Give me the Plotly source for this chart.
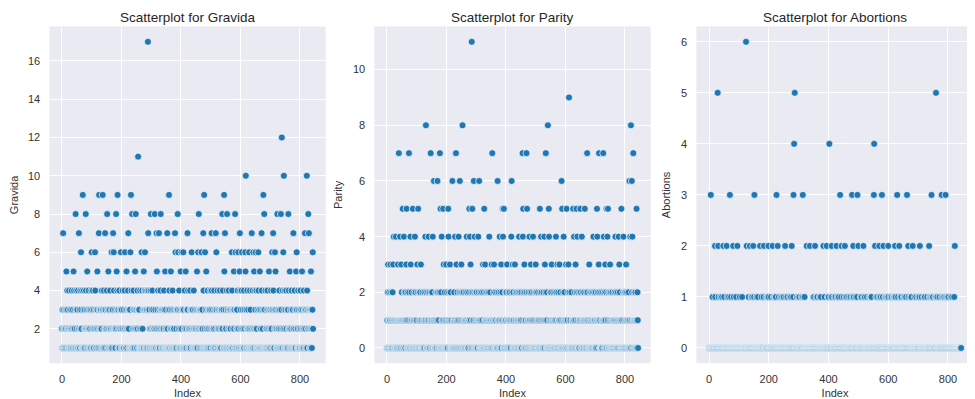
import plotly.graph_objects as go

# ---------------- data ----------------
# dense-row values for each record index, 50 per line
gravida_base = """
2131421312 1231253142 3121421312 1324121315 2412312143
2131412321 3142132141 2131412312 1423152132 4123121314
1231421312 2143121325 3121413213 2312413213 1421312312
2413125312 1342121331 2312141232 1213524131 3214123213
1321421131 2412131523 1241321313 2131412121 3412315213
2131421331 3124112131 4213151341 3141313413 1341312143
2131421312 1241312135 2314123131 2413213312 1324131521
3121412131 2413125213 1241312213 2141321331 3212413125
1342131321 3124125131 2313412212 1431231321 3124121312
2131521312 1321331231 2132124131 2413152131 4213123314
1231421132 2141321531 3124123213 1421313231 2413125142
3121421331 2413123213 1241321352 3121413213 2413121534
1321412131 2141321531 3124123213 1241312131 2413125214
3121421131 2413152132 1241321313 2131412121 3412315213
1324123131 2413121352 3121413213 2413125131 1241321314
2131421131 3124125213 1241313231 2141321531 3212413112
1342131521 3124123131 2313413212 1331231523 12312
"""
gravida_hi_index = [289, 739, 256, 618, 746, 823,
                    70, 125, 137, 187, 232, 360, 478, 545, 677,
                    46, 80, 152, 182, 236, 248, 299, 312, 332, 389, 460, 539, 555, 582, 680, 724, 736, 761, 828,
                    4, 57, 124, 145, 172, 223, 290, 318, 326, 354, 380, 422, 475, 503, 517, 548, 598, 638, 671, 710, 778, 817, 830,
                    64, 100, 111, 167, 174, 198, 212, 230, 268, 279, 382, 391, 402, 408, 436, 458, 469, 481, 519, 571, 584, 593,
                    605, 616, 629, 643, 651, 660, 707, 716, 744, 789, 843]
gravida_hi_value = [17, 12, 11, 10, 10, 10,
                    9, 9, 9, 9, 9, 9, 9, 9, 9,
                    8, 8, 8, 8, 8, 8, 8, 8, 8, 8, 8, 8, 8, 8, 8, 8, 8, 8, 8,
                    7, 7, 7, 7, 7, 7, 7, 7, 7, 7, 7, 7, 7, 7, 7, 7, 7, 7, 7, 7, 7, 7, 7,
                    6, 6, 6, 6, 6, 6, 6, 6, 6, 6, 6, 6, 6, 6, 6, 6, 6, 6, 6, 6, 6, 6,
                    6, 6, 6, 6, 6, 6, 6, 6, 6, 6, 6]

parity_base = """
0102301021 0130201012 0314010010 4100101310 0101401031
2012010412 0102130100 2100120104 3012010201 0120410210
0130210012 0120310100 2010012104 1020010120 4102001012
0120410120 1000120102 0120010210 1020410012 0310200103
1020010412 0130210100 2001012014 0120310210 0410200102
3012001021 0010120140 2100012014 0312010021 0100240102
0120010412 0100120100 2013002101 3012010201 0120410210
0130210012 3010210100 2001012104 1020310120 4102001012
0120301012 0102100140 2103120100 3012010201 0120410210
1020010412 0130210100 2001012014 0120310210 0410200102
3012001021 0010120140 2100012014 0312010021 0100240102
0120310012 0100120140 2013002101 3012010201 0120410210
0130210012 3010210100 2001012104 1020310120 4102001012
0120041012 0102100100 2103120100 3012010201 0120410210
1020010412 0130210100 2001012014 0120310210 0410200102
3012001021 0010120140 2100012014 0312010021 0100240102
0120310210 1020120140 2010240101 0210120102 10210
"""
parity_hi_index = [285, 612, 131, 254, 541, 820,
                   40, 74, 147, 178, 232, 354, 456, 469, 534, 673, 713, 727, 828,
                   158, 170, 220, 245, 292, 310, 372, 419, 587, 815, 823,
                   53, 66, 87, 105, 180, 189, 206, 277, 287, 327, 389, 393, 458, 471, 514, 544, 589,
                   604, 626, 637, 650, 665, 706, 738, 743, 788, 839]
parity_hi_value = [11, 9, 8, 8, 8, 8,
                   7, 7, 7, 7, 7, 7, 7, 7, 7, 7, 7, 7, 7,
                   6, 6, 6, 6, 6, 6, 6, 6, 6, 6, 6,
                   5, 5, 5, 5, 5, 5, 5, 5, 5, 5, 5, 5, 5, 5, 5, 5, 5,
                   5, 5, 5, 5, 5, 5, 5, 5, 5, 5]

abortions_base = """
0000000000 0010000000 0100000000 0010000001 0000100000
0100000000 0010000100 0000100000 0001000000 0100010000
0001000000 0100000000 0000000000 0001000000 0010010000
0100000001 0000100000 0100001000 0001000000 0010001000
1000000010 0000000100 0100100000 0000100000 0100010000
1000000010 0001000000 0100010000 0010000100 0000100001
0001000000 0100010000 1000000000 0000000000 0000000001
0010000000 1001000000 0100010000 0001000100 0000100010
0100000001 0010000000 1000100000 0100010000 0001000000
0100000010 0010000001 0000100000 0100010000 0010001000
1000000010 0100000001 0010000001 0000000100 0100100000
0010000000 1000100000 0100010000 0010000000 1001000100
0100000010 0010000010 0100010000 0001000000 0100100000
0010001000 1000000010 0000100010 0010000001 0000100000
0100010000 0010000000 1001000000 0100000001 0001000100
1000000010 0100010000 0010000000 1000100010 0000100010
0010000000 1000100000 0100000000 0000000000 00000
"""
abortions_hi_index = [124, 29, 287, 760, 285, 403, 553,
                      6, 70, 152, 226, 283, 314, 439, 479, 497, 552, 579, 630, 663, 745, 779, 792,
                      20, 31, 48, 59, 81, 95, 126, 137, 148, 171, 184, 199, 213, 230, 255, 277, 327, 338, 355,
                      383, 394, 411, 427, 444, 455, 483, 500, 517, 556, 570, 584, 600, 623, 637, 667, 682,
                      706, 737, 823]
abortions_hi_value = [6, 5, 5, 5, 4, 4, 4,
                      3, 3, 3, 3, 3, 3, 3, 3, 3, 3, 3, 3, 3, 3, 3, 3,
                      2, 2, 2, 2, 2, 2, 2, 2, 2, 2, 2, 2, 2, 2, 2, 2, 2, 2, 2,
                      2, 2, 2, 2, 2, 2, 2, 2, 2, 2, 2, 2, 2, 2, 2, 2, 2,
                      2, 2, 2]

panel_names = ["Gravida", "Parity", "Abortions"]
panel_titles = ["Scatterplot for Gravida", "Scatterplot for Parity", "Scatterplot for Abortions"]
x_ticks = [0, 200, 400, 600, 800]
y_ticks = [[2, 4, 6, 8, 10, 12, 14, 16], [0, 2, 4, 6, 8, 10], [0, 1, 2, 3, 4, 5, 6]]


def build(base, hi_idx, hi_val):
    vals = [int(c) for c in base if c.isdigit()]
    for i, v in zip(hi_idx, hi_val):
        if 0 <= i < len(vals):
            vals[i] = v
    return vals


series = [build(gravida_base, gravida_hi_index, gravida_hi_value),
          build(parity_base, parity_hi_index, parity_hi_value),
          build(abortions_base, abortions_hi_index, abortions_hi_value)]

# ---------------- figure ----------------
W, H = 975, 399
OFF = 8  # the page body adds an 8px margin; compensate so screen positions match
BLUE = "#1f77b4"
TXT = "#333333"
FONT = "Liberation Sans, Arial, sans-serif"

# screen-pixel positions of plot areas in the reference
x_px = [(49.4, 325.6), (374.4, 650.6), (696.4, 973.7)]
y_top, y_bot = 26.5, 363.3

fig = go.Figure()
layout = dict(
    width=W, height=H,
    margin=dict(l=0, r=0, t=0, b=0),
    paper_bgcolor="white",
    plot_bgcolor="#EAEAF2",
    showlegend=False,
    font=dict(family=FONT, color=TXT, size=11),
    annotations=[],
)


def fx(px):
    return (px - OFF) / W


def fy(py):
    return (H - (py - OFF)) / H


for k, vals in enumerate(series):
    n = len(vals)
    idx = list(range(n))
    xa = "x" if k == 0 else f"x{k+1}"
    ya = "y" if k == 0 else f"y{k+1}"
    fig.add_trace(go.Scatter(
        x=idx, y=vals, mode="markers", xaxis=xa, yaxis=ya,
        marker=dict(size=7.0, color=BLUE, line=dict(color="white", width=0.7)),
        hoverinfo="x+y",
    ))
    vmin, vmax = min(vals), max(vals)
    ypad = (vmax - vmin) * 0.05
    xpad = (n - 1) * 0.05
    d0 = fx(x_px[k][0])
    d1 = fx(x_px[k][1])
    xkey = "xaxis" if k == 0 else f"xaxis{k+1}"
    ykey = "yaxis" if k == 0 else f"yaxis{k+1}"
    layout[xkey] = dict(
        domain=[d0, min(d1, 1.0)], anchor=ya, range=[-xpad, n - 1 + xpad],
        tickvals=x_ticks, ticks="outside", ticklen=5, tickcolor="rgba(0,0,0,0)",
        showline=False, zeroline=False,
        gridcolor="white", gridwidth=1,
        tickfont=dict(size=11, color=TXT, family=FONT),
        title=dict(text="Index", font=dict(size=11, color=TXT, family=FONT), standoff=5),
    )
    layout[ykey] = dict(
        domain=[fy(y_bot), fy(y_top)], anchor=xa,
        range=[vmin - ypad, vmax + ypad],
        tickvals=y_ticks[k], ticks="outside", ticklen=6, tickcolor="rgba(0,0,0,0)",
        showline=False, zeroline=False,
        gridcolor="white", gridwidth=1,
        tickfont=dict(size=11, color=TXT, family=FONT),
        title=dict(text=panel_names[k], font=dict(size=11, color=TXT, family=FONT), standoff=8),
    )
    layout["annotations"].append(dict(
        text=panel_titles[k], xref="paper", yref="paper",
        x=(d0 + d1) / 2, y=fy(17), xanchor="center", yanchor="middle",
        showarrow=False, font=dict(size=13.5, color="#262626", family=FONT),
    ))

fig.update_layout(**layout)
fig.write_html("out.html")
